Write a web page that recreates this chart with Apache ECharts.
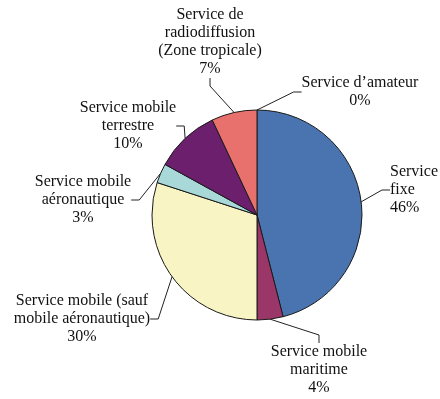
<!DOCTYPE html>
<html>
<head>
<meta charset="utf-8">
<script src="https://cdn.jsdelivr.net/npm/echarts@6/dist/echarts.min.js"></script>
<style>
  html, body { margin: 0; padding: 0; background: #fff; }
  #chart { width: 440px; height: 399px; }
</style>
</head>
<body>
<div id="chart"></div>
<script>
// Service categories, clockwise from 12 o'clock
const categories = [
  "Service d\u2019amateur",
  "Service\nfixe",
  "Service mobile\nmaritime",
  "Service mobile (sauf\nmobile a\u00e9ronautique)",
  "Service mobile\na\u00e9ronautique",
  "Service mobile\nterrestre",
  "Service de\nradiodiffusion\n(Zone tropicale)"
];
// Share of each service, in percent
const shares = [0, 46, 4, 30, 3, 10, 7];
const colors = ["#E8716E", "#4A74B0", "#9B3668", "#F8F4C4", "#A9D8D8", "#6B1F6D", "#E8716E"];

// Label anchor (centre of the text block) and text alignment for each slice
const labelSpots = [
  { x: 360, y: 92, align: "center" },
  { x: 390, y: 190, align: "left" },
  { x: 319, y: 370, align: "center" },
  { x: 82, y: 319, align: "center" },
  { x: 83, y: 200, align: "center" },
  { x: 128, y: 126, align: "center" },
  { x: 210, y: 42, align: "center" }
];

const chart = echarts.init(document.getElementById("chart"), null, { renderer: "canvas" });

chart.setOption({
  animation: false,
  backgroundColor: "#ffffff",
  series: [{
    type: "pie",
    center: [257, 215],
    radius: 105,
    startAngle: 90,
    clockwise: true,
    avoidLabelOverlap: false,
    itemStyle: { borderColor: "#1a1a1a", borderWidth: 1 },
    label: {
      show: true,
      position: "outside",
      formatter: "{b}\n{c}%",
      fontFamily: "Liberation Serif",
      fontSize: 16,
      lineHeight: 18,
      color: "#111111"
    },
    labelLine: {
      show: true,
      length: 10,
      length2: 8,
      lineStyle: { color: "#222222", width: 1 }
    },
    labelLayout: function (params) {
      const s = labelSpots[params.dataIndex];
      return { x: s.x, y: s.y, align: s.align, verticalAlign: "middle" };
    },
    data: categories.map(function (name, i) {
      return {
        name: name,
        value: shares[i],
        itemStyle: { color: colors[i] },
        label: { align: labelSpots[i].align }
      };
    })
  }]
});
</script>
</body>
</html>
